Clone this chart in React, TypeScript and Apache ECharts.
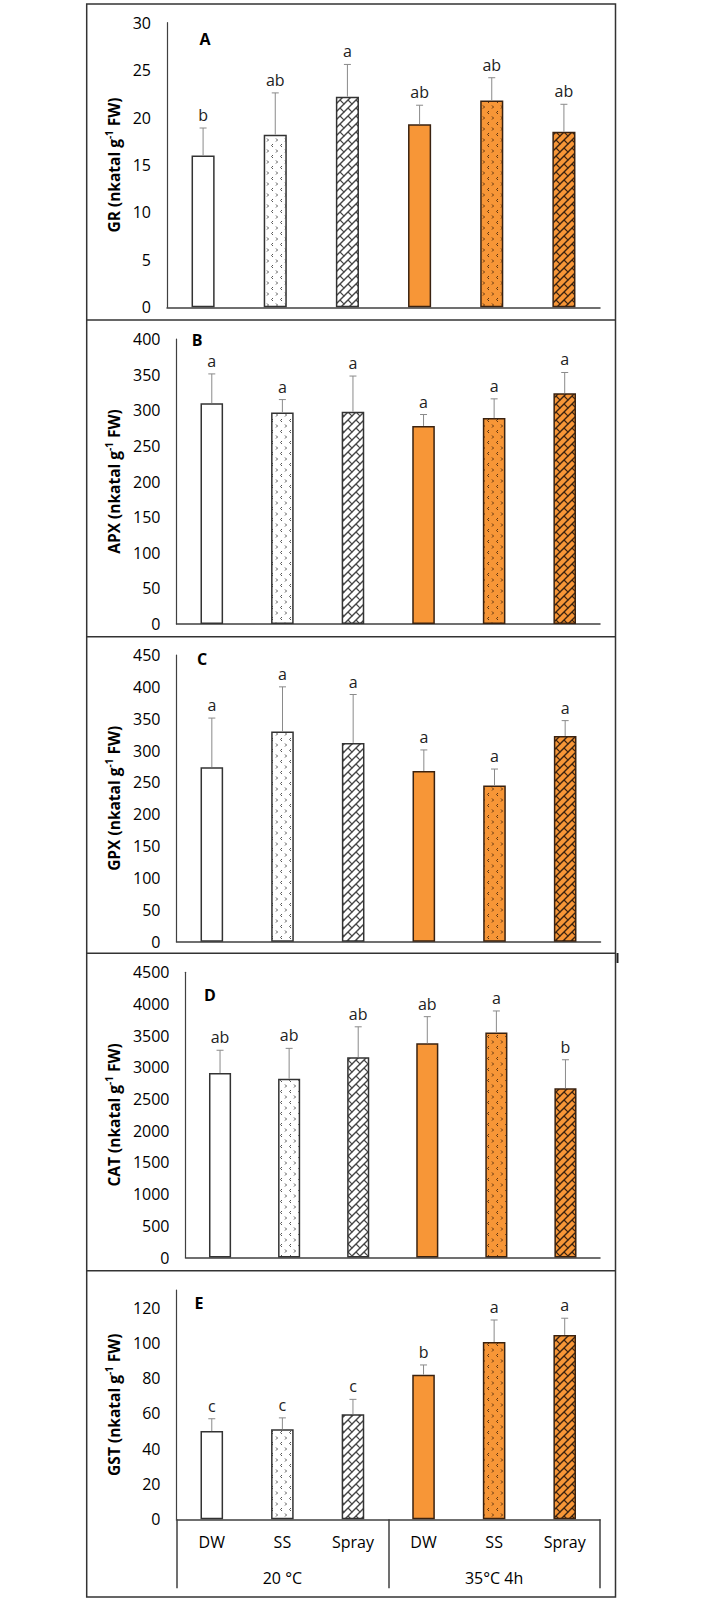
import React, { useEffect, useRef } from 'react';
import * as echarts from 'echarts';

const categories = ['DW', 'SS', 'Spray', 'DW', 'SS', 'Spray'];
const groups = ['20 °C', '35°C 4h'];

const grValues = [16.0, 18.2, 22.2, 19.3, 21.8, 18.5];
const grErrors = [2.9, 4.4, 3.4, 2.0, 2.4, 2.9];
const grLetters = ['b', 'ab', 'a', 'ab', 'ab', 'ab'];

const apxValues = [310, 297, 298, 278, 289, 324];
const apxErrors = [41, 18, 50, 16, 27, 29];
const apxLetters = ['a', 'a', 'a', 'a', 'a', 'a'];

const gpxValues = [274, 330, 312, 268, 245, 323];
const gpxErrors = [77, 70, 76, 33, 26, 24];
const gpxLetters = ['a', 'a', 'a', 'a', 'a', 'a'];

const catValues = [2910, 2820, 3160, 3380, 3550, 2670];
const catErrors = [360, 480, 480, 420, 340, 450];
const catLetters = ['ab', 'ab', 'ab', 'ab', 'a', 'b'];

const gstValues = [50, 51, 59.5, 82, 100.5, 104.5];
const gstErrors = [7, 6.5, 8.5, 5.5, 12.5, 9.5];
const gstLetters = ['c', 'c', 'c', 'b', 'a', 'a'];

const panelLetters = ['A', 'B', 'C', 'D', 'E'];
const enzymeNames = ['GR', 'APX', 'GPX', 'CAT', 'GST'];
const yMaxes = [30, 400, 450, 4500, 130];
const yIntervals = [5, 50, 50, 500, 20];

const FONT = "'Open Sans', 'Liberation Sans', sans-serif";

function makePattern(kind: string, bg: string, fg: string) {
  const c = document.createElement('canvas');
  const w = kind === 'dots' ? 9 : 8;
  const h = kind === 'dots' ? 11 : 8;
  c.width = w;
  c.height = h;
  const ctx = c.getContext('2d') as CanvasRenderingContext2D;
  ctx.fillStyle = bg;
  ctx.fillRect(0, 0, w, h);
  ctx.strokeStyle = fg;
  if (kind === 'dots') {
    ctx.lineWidth = 1;
    ctx.beginPath(); ctx.moveTo(3, 1); ctx.lineTo(1.5, 2.5); ctx.lineTo(3, 4); ctx.stroke();
    ctx.beginPath(); ctx.moveTo(6, 6.5); ctx.lineTo(7.5, 8); ctx.lineTo(6, 9.5); ctx.stroke();
  } else {
    ctx.lineWidth = 1.4;
    ctx.beginPath(); ctx.moveTo(-1, 9); ctx.lineTo(9, -1); ctx.stroke();
    ctx.lineWidth = 1.1;
    ctx.beginPath(); ctx.moveTo(4, 4); ctx.lineTo(9, 9); ctx.stroke();
    ctx.beginPath(); ctx.moveTo(-1, -1); ctx.lineTo(0.6, 0.6); ctx.stroke();
  }
  return c;
}

export default function App() {
  const ref = useRef<HTMLDivElement>(null);

  useEffect(() => {
    if (!ref.current) return;
    const chart = echarts.init(ref.current, undefined, { renderer: 'svg' });

    const ORANGE = '#F79637';
    const WHITE_BORDER = '#333333';
    const ORANGE_BORDER = '#3a2210';
    const barStyles = [
      { color: '#ffffff', borderColor: WHITE_BORDER },
      { color: { image: makePattern('dots', '#ffffff', '#555555'), repeat: 'repeat' }, borderColor: WHITE_BORDER },
      { color: { image: makePattern('weave', '#ffffff', '#444444'), repeat: 'repeat' }, borderColor: WHITE_BORDER },
      { color: ORANGE, borderColor: ORANGE_BORDER },
      { color: { image: makePattern('dots', ORANGE, '#5a3210'), repeat: 'repeat' }, borderColor: ORANGE_BORDER },
      { color: { image: makePattern('weave', ORANGE, '#3a2210'), repeat: 'repeat' }, borderColor: ORANGE_BORDER },
    ];

    const panels = [
      { values: grValues, errors: grErrors, letters: grLetters },
      { values: apxValues, errors: apxErrors, letters: apxLetters },
      { values: gpxValues, errors: gpxErrors, letters: gpxLetters },
      { values: catValues, errors: catErrors, letters: catLetters },
      { values: gstValues, errors: gstErrors, letters: gstLetters },
    ];

    const grids = [
      { left: 167, top: 22.7, width: 433, height: 284.6 },
      { left: 176.5, top: 339, width: 423.5, height: 285 },
      { left: 176.5, top: 655, width: 424, height: 286.7 },
      { left: 185.5, top: 972.3, width: 414.5, height: 285.2 },
      { left: 176.5, top: 1290, width: 423.5, height: 229.3 },
    ];
    const nameGaps = [40, 50, 50, 59, 50];
    const letterPos = [
      [205, 39], [197, 340], [202, 659], [210, 995], [199, 1303],
    ];

    const AXIS = '#404040';

    const xAxes: any[] = panels.map((_, i) => ({
      type: 'category',
      gridIndex: i,
      data: categories,
      axisLine: { show: true, lineStyle: { color: AXIS, width: 1.5 } },
      axisTick: { show: false },
      axisLabel: i === 4
        ? { show: true, margin: 15, fontSize: 16, color: '#000', fontFamily: FONT, interval: 0 }
        : { show: false },
      splitLine: { show: false },
    }));
    xAxes.push({
      type: 'category',
      gridIndex: 4,
      position: 'bottom',
      data: groups,
      axisLine: { show: false },
      axisTick: { show: true, length: 69, alignWithLabel: false, lineStyle: { color: AXIS, width: 1.5 } },
      axisLabel: { show: true, margin: 51, fontSize: 16, color: '#000', fontFamily: FONT },
      splitLine: { show: false },
    });

    const yAxes = panels.map((_, i) => ({
      type: 'value',
      gridIndex: i,
      min: 0,
      max: yMaxes[i],
      interval: yIntervals[i],
      axisLine: { show: true, lineStyle: { color: AXIS, width: 1.2 } },
      axisTick: { show: false },
      splitLine: { show: false },
      axisLabel: {
        fontSize: 16,
        margin: 16,
        color: '#000',
        fontFamily: FONT,
        showMaxLabel: i === 4 ? false : true,
        formatter: (v: number) => String(v),
      },
      name: `{b|${enzymeNames[i]} (nkatal g}{s|-1}{b| FW)}`,
      nameLocation: 'middle',
      nameGap: nameGaps[i],
      nameTextStyle: {
        rich: {
          b: { fontSize: 15.5, fontWeight: 'bold', fontFamily: FONT, color: '#000', lineHeight: 18, verticalAlign: 'bottom' },
          s: { fontSize: 10, fontWeight: 'bold', fontFamily: FONT, color: '#000', lineHeight: 10, verticalAlign: 'top' },
        },
      },
    }));

    const series: any[] = [];
    panels.forEach((p, i) => {
      series.push({
        type: 'bar',
        xAxisIndex: i,
        yAxisIndex: i,
        barWidth: '32%',
        data: p.values.map((v, j) => ({
          value: v,
          itemStyle: { ...barStyles[j], borderWidth: 1.5 },
        })),
      });
      series.push({
        type: 'custom',
        xAxisIndex: i,
        yAxisIndex: i,
        z: 5,
        data: p.values.map((v, j) => [j, v, p.errors[j]]),
        renderItem: (params: any, api: any) => {
          const x = api.value(0);
          const v = api.value(1);
          const e = api.value(2);
          const base = api.coord([x, v]);
          const top = api.coord([x, v + e]);
          const st = { stroke: '#8a8a8a', lineWidth: 1 };
          return {
            type: 'group',
            children: [
              { type: 'line', shape: { x1: base[0], y1: base[1], x2: top[0], y2: top[1] }, style: st },
              { type: 'line', shape: { x1: top[0] - 3.5, y1: top[1], x2: top[0] + 3.5, y2: top[1] }, style: st },
              {
                type: 'text',
                x: top[0],
                y: top[1] - 5,
                style: {
                  text: p.letters[params.dataIndex],
                  textAlign: 'center',
                  textVerticalAlign: 'bottom',
                  font: `16px ${FONT}`,
                  fill: '#222',
                },
              },
            ],
          };
        },
      });
    });

    const graphic: any[] = [
      {
        type: 'rect',
        shape: { x: 86.7, y: 4, width: 528.8, height: 1593 },
        style: { fill: 'none', stroke: '#333', lineWidth: 1.5 },
        silent: true,
      },
      ...[320, 636.7, 953.3, 1270.7].map((y) => ({
        type: 'line',
        shape: { x1: 86.7, y1: y, x2: 615.5, y2: y },
        style: { stroke: '#333', lineWidth: 1.5 },
        silent: true,
      })),
      {
        type: 'line',
        shape: { x1: 617.5, y1: 953, x2: 617.5, y2: 963 },
        style: { stroke: '#222', lineWidth: 2 },
        silent: true,
      },
      ...panelLetters.map((t, i) => ({
        type: 'text',
        x: letterPos[i][0],
        y: letterPos[i][1],
        style: {
          text: t,
          textAlign: 'center',
          textVerticalAlign: 'middle',
          font: `bold 16px ${FONT}`,
          fill: '#000',
        },
      })),
    ];

    chart.setOption({
      animation: false,
      backgroundColor: '#ffffff',
      grid: grids,
      xAxis: xAxes,
      yAxis: yAxes,
      series,
      graphic,
    });

    return () => chart.dispose();
  }, []);

  return (
    <div
      ref={ref}
      style={{ position: 'absolute', left: 0, top: 0, width: 704, height: 1600 }}
    />
  );
}
